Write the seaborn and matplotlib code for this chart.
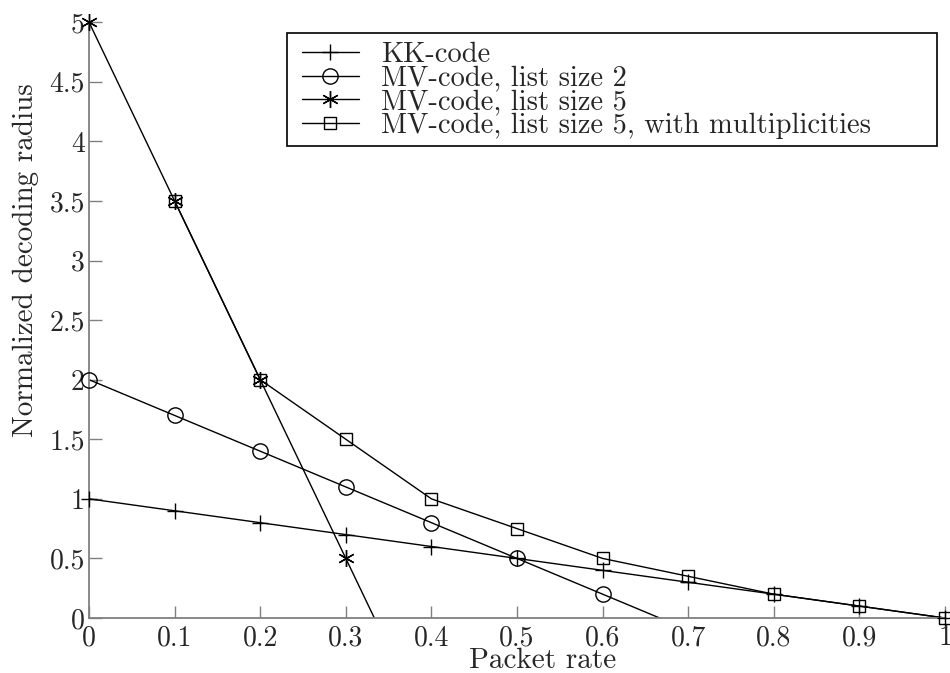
import matplotlib
matplotlib.use("Agg")
import matplotlib.pyplot as plt
from matplotlib.lines import Line2D
from matplotlib.patches import Rectangle
import numpy as np
import pandas as pd
import seaborn as sns

# packet rate grid
rate = [0.0, 0.1, 0.2, 0.3, 0.4, 0.5, 0.6, 0.7, 0.8, 0.9, 1.0]

kk_rate = rate
kk_radius = [1.0, 0.9, 0.8, 0.7, 0.6, 0.5, 0.4, 0.3, 0.2, 0.1, 0.0]

mv2_rate = [0.0, 0.1, 0.2, 0.3, 0.4, 0.5, 0.6, 0.7]
mv2_radius = [2.0, 1.7, 1.4, 1.1, 0.8, 0.5, 0.2, -0.1]

mv5_rate = [0.0, 0.1, 0.2, 0.3, 0.4]
mv5_radius = [5.0, 3.5, 2.0, 0.5, -1.0]

mult_rate = [0.1, 0.2, 0.3, 0.4, 0.5, 0.6, 0.7, 0.8, 0.9, 1.0]
mult_radius = [3.5, 2.0, 1.5, 1.0, 0.75, 0.5, 0.35, 0.2, 0.1, 0.0]

labels = ["KK-code", "MV-code, list size 2", "MV-code, list size 5",
          "MV-code, list size 5, with multiplicities"]
xtick_labels = ["0", "0.1", "0.2", "0.3", "0.4", "0.5", "0.6", "0.7",
                "0.8", "0.9", "1"]
ytick_labels = ["0", "0.5", "1", "1.5", "2", "2.5", "3", "3.5", "4",
                "4.5", "5"]

sns.set_theme(style="white")
plt.rcParams["font.family"] = ["cmr10", "DejaVu Serif"]
plt.rcParams["mathtext.fontset"] = "cm"
plt.rcParams["axes.formatter.use_mathtext"] = True

fig = plt.figure(figsize=(9.5, 6.73), dpi=100)
ax = fig.add_axes([0.0937, 0.0817, 0.9011, 0.8853])

series = [
    (kk_rate, kk_radius, "+", 12),
    (mv2_rate, mv2_radius, "o", 11),
    (mv5_rate, mv5_radius, (6, 2, 0), 12),
    (mult_rate, mult_radius, "s", 9),
]

handles = []
for (xs, ys, mk, ms), lab in zip(series, labels):
    df = pd.DataFrame({"rate": xs, "radius": ys})
    sns.lineplot(data=df, x="rate", y="radius", color="black", lw=1.0,
                 ax=ax, legend=False)
    # markers only where the point is inside the plotted range
    vis = df[(df.radius >= 0) & (df.radius <= 5)]
    ax.plot(vis.rate, vis.radius, linestyle="none", marker=mk, ms=ms,
            mfc="none", mec="black", mew=1.0, clip_on=False, zorder=5)
    handles.append(Line2D([], [], color="black", lw=1.0, marker=mk, ms=ms,
                          mfc="none", mec="black", mew=1.0))

ax.set_xlim(0, 1)
ax.set_ylim(0, 5)
ax.set_xticks(rate)
ax.set_xticklabels(xtick_labels)
ax.set_yticks(np.arange(0, 5.01, 0.5))
ax.set_yticklabels(ytick_labels)
ax.tick_params(direction="in", length=9, width=1, color="#808080",
               labelsize=20, bottom=True, left=True)
ax.tick_params(axis="x", pad=5)
ax.tick_params(axis="y", pad=3)
for side in ["top", "right"]:
    ax.spines[side].set_visible(False)
for side in ["left", "bottom"]:
    ax.spines[side].set_color("#808080")
    ax.spines[side].set_linewidth(1.3)

ax.set_xlabel("Packet rate", fontsize=21)
ax.set_ylabel("Normalized decoding radius", fontsize=21)
ax.yaxis.set_label_coords(-0.058, 0.60)
ax.xaxis.set_label_coords(0.53, -0.05)

leg = fig.legend(handles, labels, loc="upper left",
                 bbox_to_anchor=(302 / 950, 1 - 42 / 673),
                 borderaxespad=0, borderpad=0, frameon=False, fontsize=20.5,
                 handlelength=2.0, handletextpad=0.78, labelspacing=-0.1)
fig.add_artist(Rectangle((287 / 950, 1 - 146 / 673), 650 / 950, 113 / 673,
                         transform=fig.transFigure, fill=False,
                         edgecolor="black", lw=1.2))

fig.savefig("out.png", dpi=100)
